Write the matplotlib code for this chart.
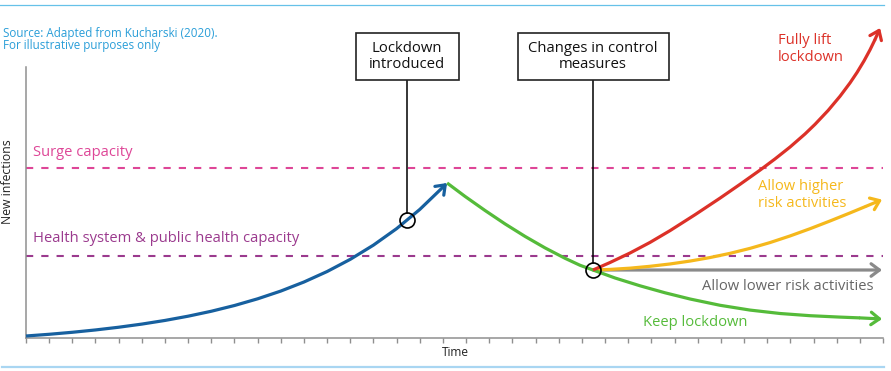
import matplotlib
matplotlib.use("Agg")
import matplotlib.pyplot as plt
from matplotlib.patches import Rectangle
from matplotlib.lines import Line2D

plt.rcParams['font.family'] = ['Open Sans', 'DejaVu Sans']
plt.rcParams['lines.scale_dashes'] = False

# ---------------- data (schematic) ----------------
tick_positions = list(range(38))

blue_t = [0, 1, 2, 3, 4, 5, 6, 7, 8, 9, 10, 11, 12, 13, 14, 15, 16, 17, 18, 18.18]
blue_y = [0.74, 1.37, 2.11, 2.97, 3.97, 5.13, 6.48, 8.05, 9.87, 11.99, 14.46,
          17.32, 20.66, 24.53, 29.03, 34.27, 40.35, 47.43, 55.65, 57.2]

green_t = [18.18, 18.955, 19.819, 20.682, 21.546, 22.409, 23.273, 23.921, 24.48,
           25.432, 26.511, 27.591, 28.670, 29.965, 31.261, 32.556, 33.851,
           35.147, 36.010, 36.960]
green_y = [57.2, 52.25, 47.05, 42.10, 37.49, 33.25, 29.41, 26.83, 25.09,
           22.14, 19.26, 16.68, 14.39, 12.07, 10.30, 9.04, 8.23,
           7.71, 7.42, 7.01]

red_t = [24.48, 25.216, 26.079, 26.943, 27.807, 28.886, 29.965, 30.829, 31.693,
         32.340, 32.988, 33.636, 34.067, 34.629, 35.147, 35.579, 35.881,
         36.183, 36.442, 36.658, 36.874]
red_y = [25.09, 27.86, 31.37, 35.28, 39.63, 45.50, 51.62, 56.72, 61.96,
         66.09, 70.48, 75.31, 78.86, 83.95, 89.23, 94.17, 98.01,
         102.29, 106.38, 110.18, 114.39]

yellow_t = [24.48, 25.216, 26.079, 26.943, 27.807, 28.670, 29.534, 30.397,
            31.261, 32.124, 32.988, 33.851, 34.715, 35.579, 36.269, 36.960]
yellow_y = [25.09, 25.31, 25.77, 26.46, 27.32, 28.39, 29.69, 31.24,
            33.08, 35.22, 37.66, 40.33, 43.19, 46.16, 48.60, 51.07]

grey_t = [24.48, 36.96]
grey_y = [25.09, 25.09]

surge_capacity = 62.73
health_capacity = 30.26

lockdown_t, lockdown_y = 16.45, 43.4
change_t, change_y = 24.48, 25.09

# ---------------- colours ----------------
C_BLUE = '#17609f'
C_GREEN = '#55bb3a'
C_RED = '#dc3128'
C_YELLOW = '#f5b81c'
C_GREY = '#8a8a8a'
C_GREY_TXT = '#666666'
C_SURGE = '#de4697'
C_HEALTH = '#9b3a8e'
C_SRC = '#2a9ed8'

W, H = 891, 371
fig = plt.figure(figsize=(W / 100, H / 100), dpi=100)
fig.patch.set_facecolor('white')


def fx(px):
    return px / W


def fy(py):
    return 1 - py / H


ax = fig.add_axes([fx(26), fy(338), (883 - 26) / W, (338 - 67) / H])
ax.set_xlim(0, 37)
ax.set_ylim(0, 100)
ax.set_facecolor('none')
for s in ['top', 'right']:
    ax.spines[s].set_visible(False)
for s in ['left', 'bottom']:
    ax.spines[s].set_color('#8f8f8f')
    ax.spines[s].set_linewidth(1.1)
ax.set_xticks(tick_positions)
ax.set_xticklabels([])
ax.tick_params(axis='x', direction='out', length=3.8, width=1.0, color='#8f8f8f')
ax.set_yticks([])

# capacity lines
ax.plot([0, 37], [surge_capacity, surge_capacity], color=C_SURGE, lw=1.5,
        linestyle=(0, (5.2, 5.8)), clip_on=False, zorder=2)
ax.plot([0, 37], [health_capacity, health_capacity], color=C_HEALTH, lw=1.5,
        linestyle=(0, (5.2, 5.8)), clip_on=False, zorder=2)


def curve(t, y, color, z=3):
    ax.plot(t[:-1], y[:-1], color=color, lw=2.3, solid_capstyle='butt',
            solid_joinstyle='round', clip_on=False, zorder=z)
    ax.annotate('', xy=(t[-1], y[-1]), xytext=(t[-2], y[-2]),
                arrowprops=dict(arrowstyle='->,head_length=0.6,head_width=0.45',
                                color=color, lw=2.3, shrinkA=0, shrinkB=0,
                                mutation_scale=10),
                annotation_clip=False, zorder=z)


curve(blue_t, blue_y, C_BLUE)
curve(grey_t, grey_y, C_GREY, z=3)
curve(yellow_t, yellow_y, C_YELLOW, z=4)
curve(red_t, red_y, C_RED, z=5)
curve(green_t, green_y, C_GREEN, z=4)

# event circles
ax.plot([lockdown_t, change_t], [lockdown_y, change_y], 'o', ms=10.8,
        mfc='none', mec='black', mew=1.2, zorder=8, clip_on=False)

# connector lines and boxes
box_bottom = (338 - 80) / 2.71
box_top = (338 - 33) / 2.71
circ_r = 7.5 / 2.71
ax.plot([lockdown_t, lockdown_t], [box_bottom, lockdown_y + circ_r], color='black',
        lw=1.1, clip_on=False, zorder=6)
ax.plot([change_t, change_t], [box_bottom, change_y + circ_r], color='black',
        lw=1.1, clip_on=False, zorder=6)

for t, wpx, label in [(lockdown_t, 103, 'Lockdown\nintroduced'),
                      (change_t, 151, 'Changes in control\nmeasures')]:
    wdat = wpx / 23.16
    ax.add_patch(Rectangle((t - wdat / 2, box_bottom), wdat, box_top - box_bottom,
                           facecolor='white', edgecolor='#222222', lw=1.2,
                           clip_on=False, zorder=7))
    ax.text(t, (box_bottom + box_top) / 2, label, ha='center', va='center',
            fontsize=10.7, color='#111111', linespacing=1.15, zorder=9,
            clip_on=False)

# labels
fig.text(fx(3), fy(33), 'Source: Adapted from Kucharski (2020).', fontsize=8.4,
         color=C_SRC, ha='left', va='center')
fig.text(fx(3), fy(46), 'For illustrative purposes only', fontsize=8.4,
         color=C_SRC, ha='left', va='center')

fig.text(fx(8), fy(182), 'New infections', rotation=90, fontsize=8.8,
         color='#222222', ha='center', va='center')
fig.text(fx(455), fy(353), 'Time', fontsize=8.6, color='#222222',
         ha='center', va='center')

LBL = 10.6
fig.text(fx(33), fy(152), 'Surge capacity', fontsize=LBL, color=C_SURGE,
         ha='left', va='center')
fig.text(fx(33), fy(239), 'Health system & public health capacity', fontsize=LBL,
         color=C_HEALTH, ha='left', va='center')

fig.text(fx(778), fy(49), 'Fully lift\nlockdown', fontsize=LBL, color=C_RED,
         ha='left', va='center', linespacing=1.15)
fig.text(fx(758), fy(195), 'Allow higher\nrisk activities', fontsize=LBL,
         color=C_YELLOW, ha='left', va='center', linespacing=1.1)
fig.text(fx(873), fy(287), 'Allow lower risk activities', fontsize=LBL,
         color=C_GREY_TXT, ha='right', va='center')
fig.text(fx(643), fy(323), 'Keep lockdown', fontsize=LBL, color=C_GREEN,
         ha='left', va='center')

# decorative top and bottom rules
fig.add_artist(Line2D([fx(0), fx(884)], [fy(4.5), fy(4.5)], color='#66c1e8', lw=0.9))
fig.add_artist(Line2D([fx(2), fx(884)], [fy(367), fy(367)], color='#a9d6f2', lw=1.6))

fig.savefig('out.png', dpi=100, facecolor='white')
